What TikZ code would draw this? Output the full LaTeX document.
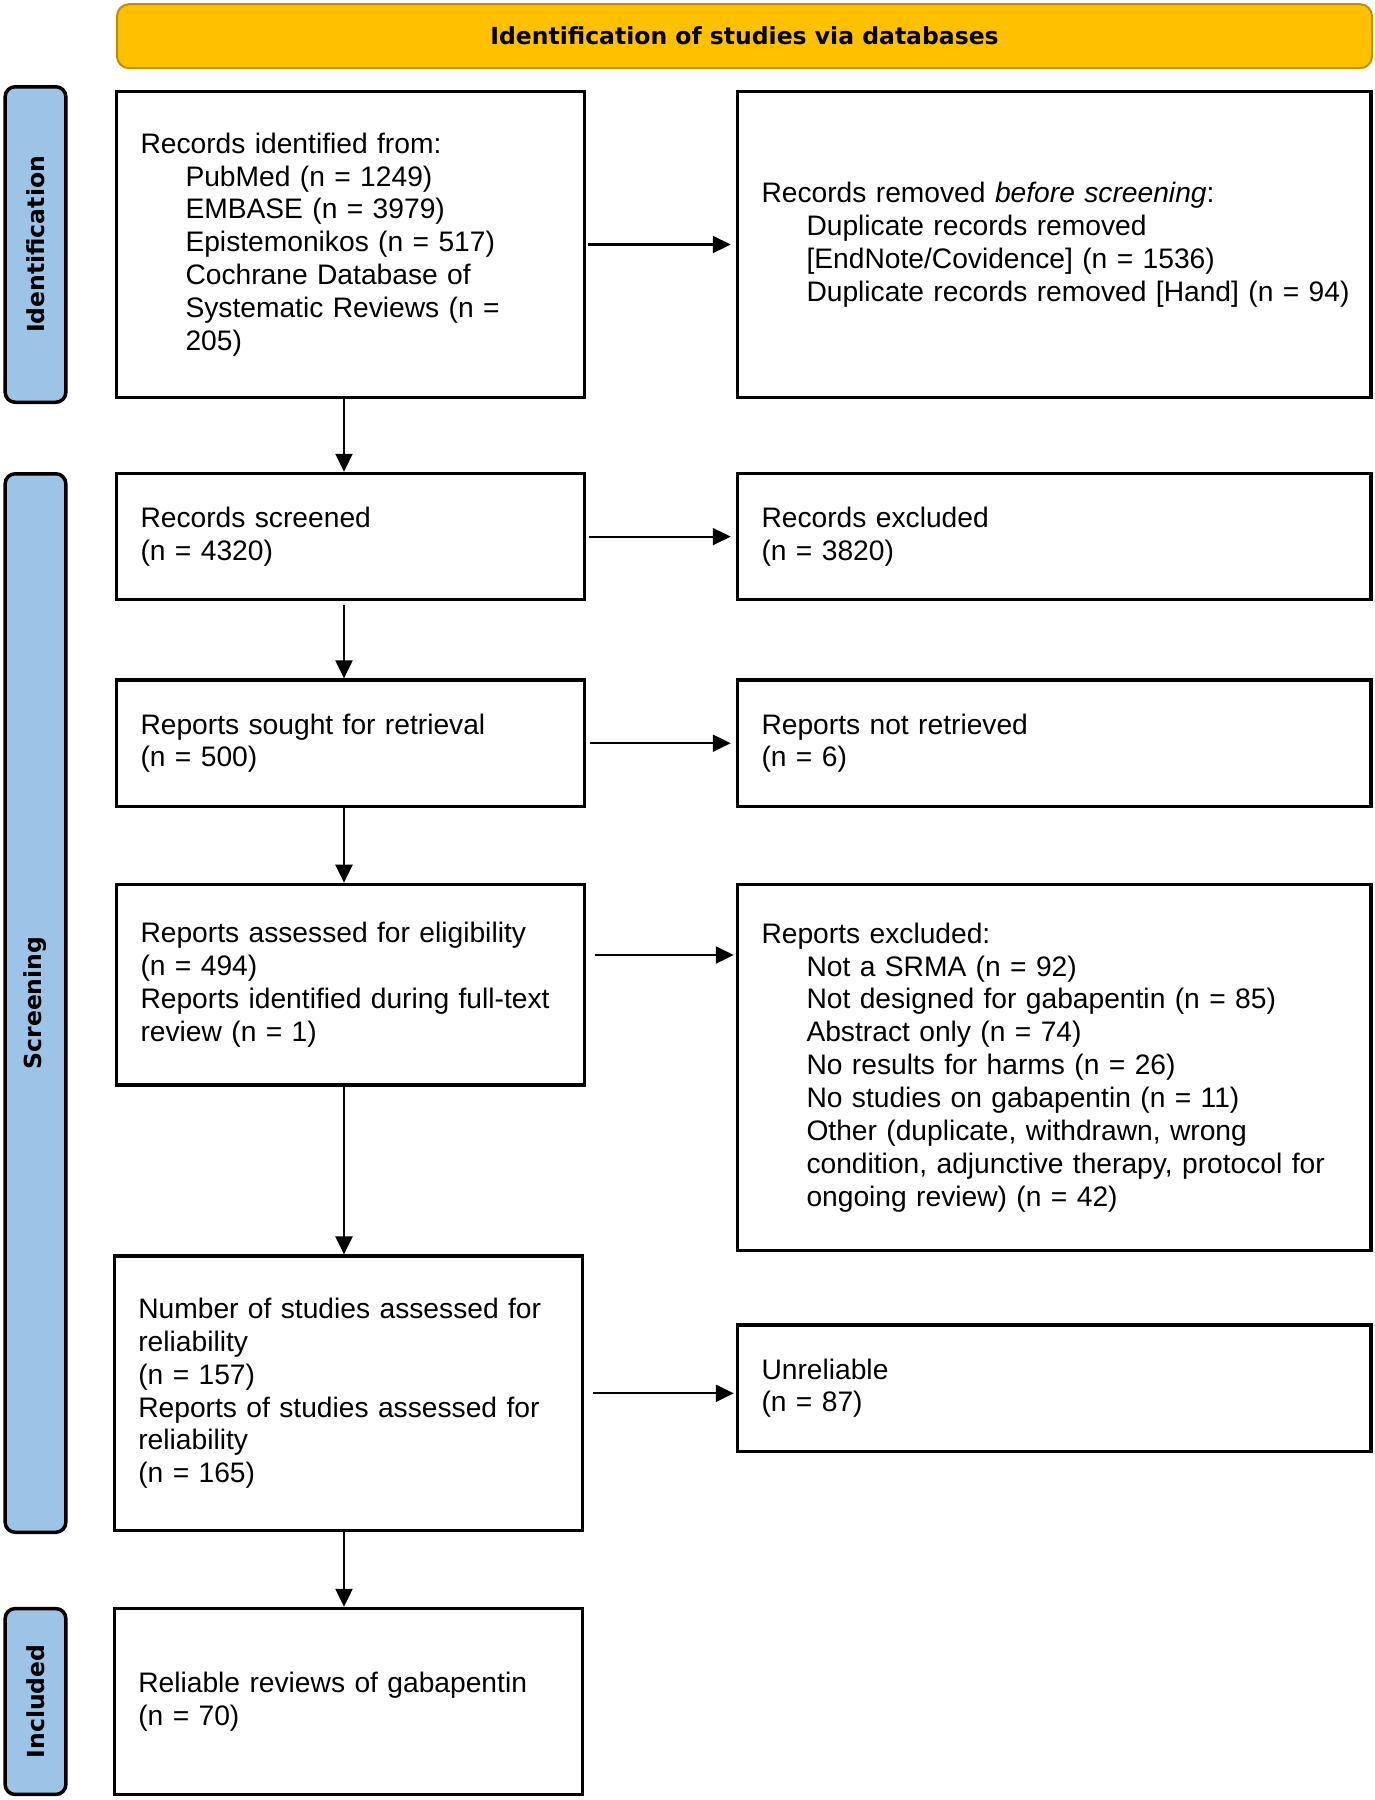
\documentclass[tikz,border=0pt]{standalone}
\usepackage{fontspec}
\setmainfont{Liberation Sans}
\newfontfamily\labfont{DejaVu Sans}
\usetikzlibrary{arrows.meta}
\definecolor{titlegold}{HTML}{FFC000}
\definecolor{titleedge}{HTML}{BF9000}
\definecolor{labblue}{HTML}{9DC3E6}
\newcommand{\myind}{\hspace*{45pt}}
\begin{document}
\begin{tikzpicture}[x=1pt,y=-1pt,
  box/.style={draw=black, line width=3.5pt, rectangle, align=left, inner xsep=24pt, inner ysep=0pt, font=\fontsize{28.2}{32.9}\selectfont},
  lbox/.style={box, minimum width=468.2pt, text width=420.2pt},
  rbox/.style={box, minimum width=633.4pt, text width=585.4pt},
  phase/.style={draw=black, line width=3.5pt, fill=labblue, rounded corners=10pt, minimum height=60.7pt, inner sep=0pt, rotate=90, font=\labfont\bfseries\fontsize{23.5}{28}\selectfont},
  titlebar/.style={draw=titleedge, line width=2pt, fill=titlegold, rounded corners=12pt, minimum width=1255pt, minimum height=64pt, inner sep=0pt, font=\labfont\bfseries\fontsize{23.5}{28}\selectfont},
  arr/.style={line width=2.2pt, -{Triangle[length=18pt,width=17pt]}},
]
\useasboundingbox (0,0) rectangle (1375,1800);

\node[titlebar] (title) at (744.5,36.2) {Identification of studies via databases};

\node[phase, minimum width=315.5pt] (pid) at (35.5,244.5) {Identification};
\node[phase, minimum width=1058.5pt] (pscr) at (35.5,1003) {Screening};
\node[phase, minimum width=185.9pt] (pinc) at (35.5,1701.5) {Included};

\node[lbox, minimum height=306.4pt] (b1) at (350.6,244.5) {Records identified from:\\
\myind PubMed (n = 1249)\\
\myind EMBASE (n = 3979)\\
\myind Epistemonikos (n = 517)\\
\myind Cochrane Database of\\
\myind Systematic Reviews (n =\\
\myind 205)};

\node[rbox, minimum height=306.4pt] (r1) at (1054.2,244.5) {Records removed \textit{before screening}:\\
\myind Duplicate records removed\\
\myind [EndNote/Covidence] (n = 1536)\\
\myind\mbox{Duplicate records removed [Hand] (n = 94)}};

\node[lbox, minimum height=126.2pt] (b2) at (350.6,536.6) {Records screened\\(n = 4320)};
\node[rbox, minimum height=126.2pt] (r2) at (1054.2,536.6) {Records excluded\\(n = 3820)};

\node[lbox, minimum height=126.2pt] (b3) at (350.6,743.2) {Reports sought for retrieval\\(n = 500)};
\node[rbox, minimum height=126.2pt] (r3) at (1054.2,743.2) {Reports not retrieved\\(n = 6)};

\node[lbox, minimum height=200.8pt] (b4) at (350.6,984.8) {Reports assessed for eligibility\\(n = 494)\\Reports identified during full-text\\review (n = 1)};
\node[rbox, minimum height=366.1pt] (r4) at (1054.2,1067.4) {Reports excluded:\\
\myind Not a SRMA (n = 92)\\
\myind Not designed for gabapentin (n = 85)\\
\myind Abstract only (n = 74)\\
\myind No results for harms (n = 26)\\
\myind No studies on gabapentin (n = 11)\\
\myind Other (duplicate, withdrawn, wrong\\
\myind condition, adjunctive therapy, protocol for\\
\myind ongoing review) (n = 42)};

\node[lbox, minimum height=274.3pt] (b5) at (348.4,1393.3) {Number of studies assessed for\\reliability\\(n = 157)\\Reports of studies assessed for\\reliability\\(n = 165)};
\node[rbox, minimum height=126.2pt] (r5) at (1054.2,1388.2) {Unreliable\\(n = 87)};

\node[lbox, minimum height=185.9pt] (b6) at (348.4,1701.5) {Reliable reviews of gabapentin\\(n = 70)};

\coordinate (col) at (344,0);
\coordinate (a4) at (0,955);

\draw[arr] (b1.south -| col) -- (b2.north -| col);
\draw[arr, shorten <=4pt] (b2.south -| col) -- (b3.north -| col);
\draw[arr] (b3.south -| col) -- (b4.north -| col);
\draw[arr] (b4.south -| col) -- (b5.north -| col);
\draw[arr] (b5.south -| col) -- (b6.north -| col);

\draw[arr, shorten <=2pt, shorten >=5pt] (b1.east) -- (r1.west);
\draw[arr, shorten <=3pt, shorten >=5pt] (b2.east) -- (r2.west);
\draw[arr, shorten <=4pt, shorten >=5pt] (b3.east) -- (r3.west);
\draw[arr, shorten <=9pt, shorten >=2pt] (b4.east |- a4) -- (r4.west |- a4);
\draw[arr, shorten <=9pt, shorten >=2pt] (b5.east) -- (r5.west |- b5.east);
\end{tikzpicture}
\end{document}
